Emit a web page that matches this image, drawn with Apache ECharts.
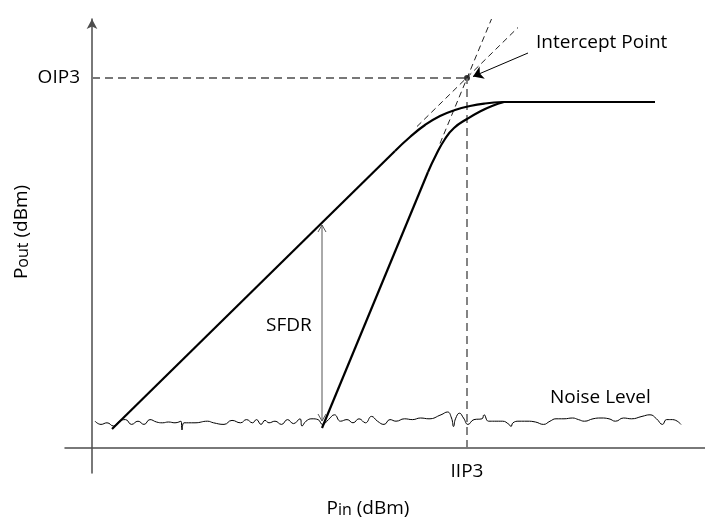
<!DOCTYPE html>
<html>
<head>
<meta charset="utf-8">
<script src="https://cdn.jsdelivr.net/npm/echarts@6/dist/echarts.min.js"></script>
<style>
  html, body { margin: 0; padding: 0; background: #fff; }
  #chart { width: 705px; height: 525px; }
</style>
</head>
<body>
<div id="chart"></div>
<script>
// schematic units: Pin / Pout in arbitrary dB steps
const fundLinear = [[4, 3.8], [60.6, 59.4]];
const fundKnee = [[60.6, 59.4], [63.6, 62.2], [66.6, 64.6], [69.6, 66.4], [72.6, 67.6], [75.6, 68.4], [78.6, 68.9], [82.2, 69.2]];
const saturation = [[82.2, 69.2], [112.6, 69.2]];
const imdLinear = [[46, 4], [67.2, 55.2]];
const imdKnee = [[67.2, 55.2], [68.8, 58.6], [70.6, 61.8], [72.4, 64.0], [75, 65.8], [77.6, 67.3], [80, 68.4], [82.4, 69.2]];
const fundExtension = [[65, 64.3], [85.2, 84.1]];
const imdExtension = [[69.6, 60.9], [79.9, 85.8]];
const interceptPoint = [[75, 74]];
const oip3Guide = [[0, 74], [75, 74]];
const iip3Guide = [[75, 0], [75, 74]];
const sfdrSpan = [[46, 5.4], [46, 44.6]];
const sfdrHeadTop = [[45.2, 43.2], [46, 44.6], [46.8, 43.2]];
const sfdrHeadBottom = [[45.2, 6.8], [46, 5.4], [46.8, 6.8]];
const interceptPointer = [[87.2, 79], [76.2, 74.3]];
const noiseX = [0.6, 1.8, 3.0, 4.3, 5.5, 6.7, 7.9, 9.2, 10.4, 11.6, 12.9, 14.1, 15.3, 16.6, 17.8, 18.0, 18.4,
  20.6, 23.1, 24.3, 26.4, 28.0, 29.7, 30.9, 32.1, 32.9, 33.8, 34.6, 35.4, 36.6, 37.9, 39.1, 40.3, 41.6, 42.0,
  42.8, 44.0, 45.2, 46.1, 47.3, 48.5, 49.7, 51.0, 52.2, 53.4, 54.7, 55.9, 57.1, 58.4, 59.6, 60.8, 62.5, 64.1,
  65.7, 67.4, 69.8, 71.1, 71.9, 72.3, 72.7, 73.5, 74.3, 75.2, 76.4, 78.0, 78.4, 79.3, 80.5, 82.1, 83.4, 83.8,
  84.2, 85.4, 87.0, 88.7, 90.3, 91.6, 92.8, 94.4, 96.1, 97.3, 98.5, 100.2, 101.8, 103.4, 104.7, 106.3,
  107.9, 110.0, 111.6, 112.9, 114.1, 114.9, 116.1, 117.8];
const noiseY = [5.36, 4.72, 5.04, 4.4, 5.36, 5.68, 4.72, 5.36, 4.72, 5.68, 5.2, 5.04, 5.2, 5.04, 5.36, 3.6, 5.04,
  5.04, 5.36, 5.04, 4.72, 5.52, 5.04, 5.68, 5.04, 5.68, 4.72, 5.52, 5.04, 5.36, 4.72, 5.68, 4.88, 5.84, 4.4,
  5.36, 5.84, 5.68, 4.72, 5.68, 6.64, 5.36, 5.68, 5.04, 5.84, 5.04, 6.32, 5.36, 4.72, 5.68, 5.36, 5.84, 5.68,
  6.0, 5.84, 6.64, 7.2, 6.0, 4.3, 5.84, 6.96, 6.0, 4.72, 5.68, 5.84, 6.64, 5.36, 5.36, 5.36, 4.72, 4.3,
  5.04, 5.36, 5.36, 5.2, 4.72, 5.36, 5.84, 5.84, 6.0, 5.68, 5.36, 5.84, 6.0, 5.84, 5.36, 6.0,
  5.84, 6.32, 6.64, 5.84, 4.72, 5.68, 5.68, 4.72];
const xTickLabels = ['IIP3'];
const yTickLabels = ['OIP3'];

const FONT = '"Open Sans", sans-serif';
const chart = echarts.init(document.getElementById('chart'));
const noiseLevel = noiseX.map((x, i) => [x, noiseY[i]]);

const plain = (data, extra) => Object.assign({
  type: 'line', data, symbol: 'none', silent: true, animation: false,
  lineStyle: { color: '#000', width: 2.2 }
}, extra || {});

const axisName = (main, sub) => ({
  text: '{p|' + main + '}{s|' + sub + '}{p| (dBm)}', align: 'center', verticalAlign: 'middle',
  rich: {
    p: { fontSize: 19, fontFamily: FONT, fill: '#000' },
    s: { fontSize: 16, fontFamily: FONT, fill: '#000', padding: [3, 0, 0, 0] }
  }
});

chart.setOption({
  backgroundColor: '#fff',
  animation: false,
  grid: { left: 65, right: 0, top: 19, bottom: 52 },
  xAxis: {
    type: 'value', min: -5.4, max: 122.6,
    splitLine: { show: false },
    axisTick: { show: false },
    axisLine: { onZero: true, lineStyle: { color: '#4d4d4d', width: 1.5 } },
    axisLabel: {
      customValues: [interceptPoint[0][0]],
      formatter: () => xTickLabels[0],
      margin: -11, color: '#000', fontSize: 19, fontFamily: FONT
    }
  },
  yAxis: {
    type: 'value', min: -5, max: 85.8,
    splitLine: { show: false },
    axisTick: { show: false },
    axisLine: {
      onZero: true, symbol: ['none', 'arrow'], symbolSize: [8, 10],
      lineStyle: { color: '#4d4d4d', width: 1.5 }
    },
    axisLabel: {
      customValues: [interceptPoint[0][1]],
      formatter: () => yTickLabels[0],
      margin: -15, color: '#000', fontSize: 19, fontFamily: FONT
    }
  },
  series: [
    plain(oip3Guide, { lineStyle: { color: '#777', width: 1.8, type: [8, 5] } }),
    plain(iip3Guide, { lineStyle: { color: '#777', width: 1.8, type: [8, 5] } }),
    plain(noiseLevel, { smooth: 0.5, lineStyle: { color: '#000', width: 1 } }),
    plain(fundExtension, { lineStyle: { color: '#222', width: 1, type: [6, 4] } }),
    plain(imdExtension, { lineStyle: { color: '#222', width: 1, type: [6, 4] } }),
    plain(fundLinear),
    plain(fundKnee, { smooth: 0.5 }),
    plain(saturation),
    plain(imdLinear),
    plain(imdKnee, { smooth: 0.5 }),
    plain(sfdrSpan, { lineStyle: { color: '#555', width: 1 } }),
    plain(sfdrHeadTop, { lineStyle: { color: '#555', width: 1 } }),
    plain(sfdrHeadBottom, { lineStyle: { color: '#555', width: 1 } }),
    {
      type: 'lines', coordinateSystem: 'cartesian2d', silent: true, animation: false,
      symbol: ['none', 'arrow'], symbolSize: 10,
      lineStyle: { color: '#000', width: 1, opacity: 1 },
      data: [{ coords: interceptPointer }]
    },
    {
      type: 'scatter', data: interceptPoint, symbolSize: 6, silent: true,
      itemStyle: { color: '#000' }
    }
  ],
  graphic: [
    { type: 'text', left: 536, top: 33, style: { text: 'Intercept Point', fontSize: 19, fontFamily: FONT, fill: '#000' } },
    { type: 'text', left: 550, top: 388, style: { text: 'Noise Level', fontSize: 19, fontFamily: FONT, fill: '#000' } },
    { type: 'text', left: 266, top: 316, style: { text: 'SFDR', fontSize: 19, fontFamily: FONT, fill: '#000' } },
    { type: 'text', x: 22, y: 232, rotation: Math.PI / 2, style: axisName('P', 'out') },
    { type: 'text', x: 368, y: 509, style: axisName('P', 'in') }
  ]
});
</script>
</body>
</html>
